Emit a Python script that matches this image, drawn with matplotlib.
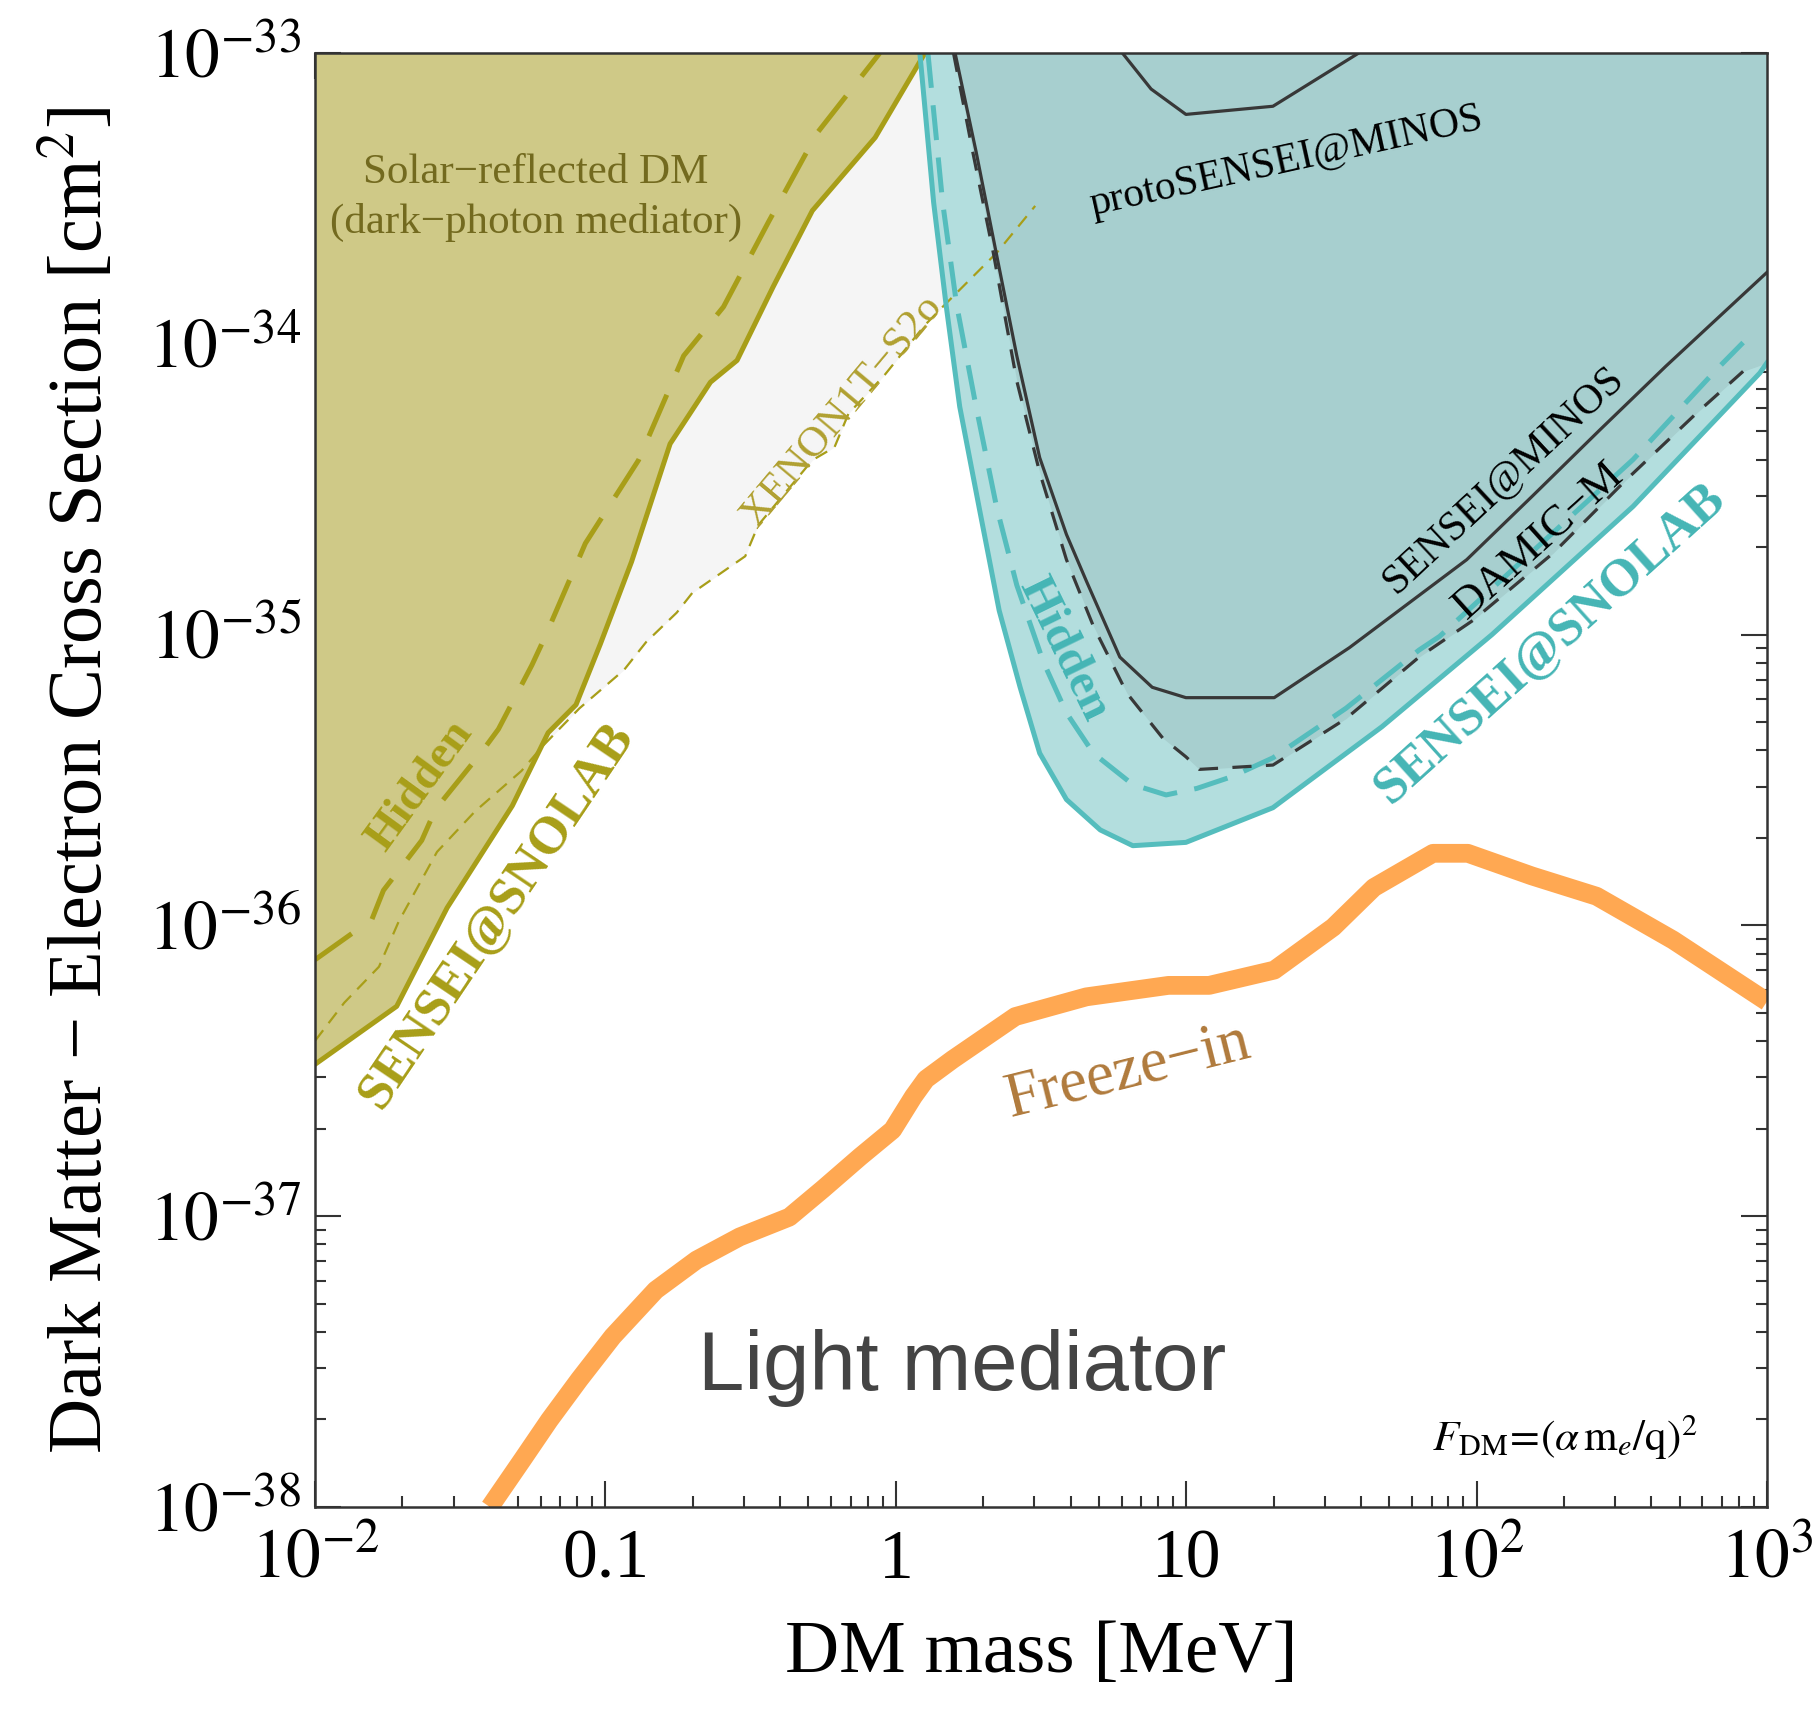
import matplotlib
matplotlib.use("Agg")
import matplotlib.pyplot as plt
import numpy as np
from matplotlib.ticker import LogLocator, NullFormatter

plt.rcParams["font.family"] = "serif"
plt.rcParams["font.serif"] = ["Liberation Serif", "DejaVu Serif"]
plt.rcParams["mathtext.fontset"] = "stix"

# curves: DM mass [MeV], cross section [cm^2]
solar_snolab_m = [0.010, 0.0191, 0.0285, 0.0478, 0.0635, 0.0792, 0.0960, 0.123,
                  0.167, 0.230, 0.284, 0.378, 0.516, 0.849, 1.26]
solar_snolab_s = [3.33e-37, 5.27e-37, 1.15e-36, 2.58e-36, 4.60e-36, 5.74e-36, 9.27e-36, 1.78e-35,
                  4.53e-35, 7.38e-35, 8.77e-35, 1.57e-34, 2.87e-34, 5.12e-34, 1.0e-33]

solar_hidden_m = [0.010, 0.0157, 0.0172, 0.0233, 0.0260, 0.0372, 0.0428, 0.0558,
                  0.0618, 0.0853, 0.130, 0.186, 0.255, 0.364, 0.536, 0.881]
solar_hidden_s = [7.62e-37, 1.05e-36, 1.32e-36, 1.96e-36, 2.51e-36, 3.91e-36, 4.73e-36, 7.85e-36,
                  9.77e-36, 2.06e-35, 3.98e-35, 9.10e-35, 1.34e-34, 2.62e-34, 5.31e-34, 1.0e-33]

xenon_m = [0.0100, 0.0126, 0.0166, 0.0194, 0.0263, 0.0356, 0.0514, 0.0607, 0.0814, 0.116,
           0.138, 0.176, 0.199, 0.303, 0.336, 0.516, 0.615, 0.687, 0.914, 1.26, 1.45, 2.23, 3.02]
xenon_s = [4.01e-37, 5.42e-37, 7.21e-37, 1.03e-36, 1.79e-36, 2.47e-36, 3.40e-36, 4.13e-36, 5.58e-36, 7.57e-36,
           9.42e-36, 1.19e-35, 1.39e-35, 1.86e-35, 2.38e-35, 3.98e-35, 4.41e-35, 5.75e-35, 7.80e-35, 1.16e-34,
           1.34e-34, 2.06e-34, 2.98e-34]

snolab_m = [1.21, 1.35, 1.49, 1.66, 1.94, 2.27, 2.68, 3.13, 3.87, 5.06, 6.55, 9.98,
            19.9, 47.2, 113, 346, 946, 1000]
snolab_s = [1.0e-33, 3.06e-34, 1.36e-34, 6.08e-35, 2.71e-35, 1.21e-35, 6.59e-36, 3.91e-36, 2.71e-36,
            2.13e-36, 1.88e-36, 1.93e-36, 2.54e-36, 4.82e-36, 1.00e-35, 2.76e-35, 7.94e-35, 8.6e-35]

snolab_hidden_m = [1.29, 1.45, 1.62, 1.89, 2.23, 2.61, 3.22, 3.87, 4.79, 6.55, 8.53, 10.9,
                   14.4, 19.9, 35.5, 63.4, 74.6, 346, 670, 828]
snolab_hidden_s = [1.0e-33, 3.06e-34, 1.36e-34, 6.08e-35, 2.71e-35, 1.48e-35, 8.07e-36, 5.38e-36,
                   3.91e-36, 3.05e-36, 2.81e-36, 2.96e-36, 3.25e-36, 3.77e-36, 5.58e-36, 8.85e-36,
                   9.86e-36, 4.00e-35, 8.15e-35, 1.01e-34]

damic_m = [1.58, 1.84, 2.17, 2.61, 3.13, 3.87, 4.79, 6.25, 8.30, 9.98, 11.1, 19.9,
           35.5, 63.4, 97.3, 184, 328, 573, 828]
damic_s = [1.0e-33, 4.58e-34, 2.04e-34, 7.45e-35, 3.61e-35, 1.81e-35, 1.07e-35, 6.29e-36, 4.41e-36,
           3.80e-36, 3.44e-36, 3.56e-36, 5.14e-36, 8.37e-36, 1.12e-35, 1.91e-35, 3.41e-35,
           5.78e-35, 8.04e-35]

minos_m = [1.60, 1.89, 2.22, 2.61, 3.13, 3.87, 4.53, 5.91, 7.64, 9.98, 20.1, 36.5, 92.5,
           156, 266, 449, 1000]
minos_s = [1.0e-33, 4.58e-34, 2.04e-34, 9.10e-35, 4.06e-35, 2.21e-35, 1.53e-35, 8.37e-36, 6.59e-36,
           6.07e-36, 6.07e-36, 9.02e-36, 1.81e-35, 3.00e-35, 5.06e-35, 8.38e-35, 1.76e-34]

proto_m = [6.03, 7.57, 9.98, 19.9, 39.3]
proto_s = [1.0e-33, 7.52e-34, 6.15e-34, 6.56e-34, 1.0e-33]

freezein_m = [0.040, 0.0519, 0.0641, 0.0814, 0.106, 0.149, 0.206, 0.290, 0.430, 0.561, 0.753,
              0.975, 1.15, 1.27, 1.57, 2.58, 4.53, 8.69, 12.0, 20.1, 32.1, 44.3, 70.8, 93.3,
              155, 259, 475, 1000]
freezein_s = [1.0e-38, 1.46e-38, 1.99e-38, 2.75e-38, 3.86e-38, 5.57e-38, 7.07e-38, 8.49e-38, 9.93e-38,
              1.24e-37, 1.60e-37, 1.98e-37, 2.58e-37, 2.96e-37, 3.46e-37, 4.86e-37, 5.68e-37, 6.22e-37,
              6.22e-37, 7.02e-37, 9.86e-37, 1.35e-36, 1.77e-36, 1.77e-36, 1.48e-36, 1.26e-36,
              8.91e-37, 5.47e-37]

xtick_vals = [1e-2, 1e-1, 1, 10, 1e2, 1e3]
xtick_labels = [r"$10^{-2}$", "0.1", "1", "10", r"$10^{2}$", r"$10^{3}$"]
ytick_vals = [1e-38, 1e-37, 1e-36, 1e-35, 1e-34, 1e-33]
ytick_labels = [r"$10^{-38}$", r"$10^{-37}$", r"$10^{-36}$", r"$10^{-35}$", r"$10^{-34}$", r"$10^{-33}$"]

olive_line = "#A89E18"
olive_fill = "#CFC987"
teal_line = "#55BDBD"
teal_text = "#45B5B5"
teal_light = "#B3DEDE"
teal_dark = "#A7CFCF"
dark = "#383838"
orange = "#FFA852"
top = 1e-33

fig = plt.figure(figsize=(18.18, 17.10), dpi=100)
ax = fig.add_axes([0.1733, 0.1187, 0.7986, 0.8503])
ax.set_xscale("log")
ax.set_yscale("log")

# filled regions
ax.fill_between(xenon_m, xenon_s, top, color="#F5F5F5", lw=0, zorder=1)
ax.fill_between(solar_snolab_m, solar_snolab_s, top, color=olive_fill, lw=0, zorder=2)
ax.fill_between(snolab_m, snolab_s, top, color=teal_light, lw=0, zorder=3)
# current-limit region (bounded by DAMIC-M, closed to the right edge on the SNOLAB curve)
ax.fill_between(np.append(damic_m, snolab_m[-1]), np.append(damic_s, snolab_s[-1]), top,
                color=teal_dark, lw=0, zorder=4)

# limit curves
ax.plot(xenon_m, xenon_s, color=olive_line, lw=1.6, dashes=(6, 4), zorder=5)
ax.plot(solar_snolab_m, solar_snolab_s, color=olive_line, lw=3.6, zorder=6)
ax.plot(solar_hidden_m, solar_hidden_s, color=olive_line, lw=3.6, dashes=(9, 5), zorder=6)
ax.plot(snolab_m, snolab_s, color=teal_line, lw=3.6, zorder=6)
ax.plot(snolab_hidden_m, snolab_hidden_s, color=teal_line, lw=3.6, dashes=(7, 3.5), zorder=6)
ax.plot(damic_m, damic_s, color=dark, lw=2.3, dashes=(6, 4.5), zorder=7)
ax.plot(minos_m, minos_s, color=dark, lw=2.3, zorder=7)
ax.plot(proto_m, proto_s, color=dark, lw=2.3, zorder=7)
ax.plot(freezein_m, freezein_s, color=orange, lw=13.5, solid_capstyle="butt", zorder=8)

# labels in the plot
ax.text(0.0575, 3.18e-34, "Solar\u2212reflected DM\n(dark\u2212photon mediator)", color="#736A1F",
        fontsize=31, ha="center", va="center", linespacing=1.35, zorder=9)
ax.text(0.656, 5.86e-35, "XENON1T\u2212S2o", color="#B0A030", fontsize=31, rotation=50,
        ha="center", va="center", zorder=9)
ax.text(0.0231, 3.02e-36, "Hidden", color=olive_line, fontsize=34, fontweight="bold",
        rotation=54, ha="center", va="center", zorder=9)
ax.text(0.0420, 1.08e-36, "SENSEI@SNOLAB", color=olive_line, fontsize=38, fontweight="bold",
        rotation=56, ha="center", va="center", zorder=9)
ax.text(22.2, 4.22e-34, "protoSENSEI@MINOS", color="black", fontsize=30, rotation=12.5,
        ha="center", va="center", zorder=9)
ax.text(124, 3.38e-35, "SENSEI@MINOS", color="black", fontsize=30, rotation=43,
        ha="center", va="center", zorder=9)
ax.text(163, 2.11e-35, "DAMIC\u2212M", color="black", fontsize=32, rotation=42,
        ha="center", va="center", zorder=9)
ax.text(179, 9.35e-36, "SENSEI@SNOLAB", color=teal_text, fontsize=38, fontweight="bold",
        rotation=42, ha="center", va="center", zorder=9)
ax.text(3.80, 8.93e-36, "Hidden", color=teal_text, fontsize=35, fontweight="bold",
        rotation=-64, ha="center", va="center", zorder=9)
ax.text(6.31, 3.13e-37, "Freeze\u2212in", color="#B07A3C", fontsize=45, rotation=14,
        ha="center", va="center", zorder=9)
ax.text(1.69, 3.01e-38, "Light mediator", color="#444444", fontsize=60,
        family="Liberation Sans", ha="center", va="center", zorder=9)
ax.text(202, 1.73e-38, r"$F_{\mathrm{DM}}\!=\!(\alpha\,\mathrm{m}_e/\mathrm{q})^2$", color="black",
        fontsize=31, ha="center", va="center", zorder=9)

ax.set_xlim(1e-2, 1e3)
ax.set_ylim(1e-38, 1e-33)
ax.set_xticks(xtick_vals)
ax.set_xticklabels(xtick_labels)
ax.set_yticks(ytick_vals)
ax.set_yticklabels(ytick_labels)
ax.xaxis.set_minor_locator(LogLocator(base=10, subs=np.arange(2, 10)))
ax.yaxis.set_minor_locator(LogLocator(base=10, subs=np.arange(2, 10)))
ax.xaxis.set_minor_formatter(NullFormatter())
ax.yaxis.set_minor_formatter(NullFormatter())

ax.tick_params(which="both", direction="in", top=True, right=True, colors="#333333",
               width=1.5, labelcolor="black")
ax.tick_params(which="major", length=19, labelsize=50)
ax.tick_params(which="minor", length=8)
ax.tick_params(axis="x", which="major", pad=16)
ax.tick_params(axis="y", which="major", pad=10)
for sp in ax.spines.values():
    sp.set_color("#333333")
    sp.set_linewidth(1.8)
    sp.set_zorder(10)

ax.set_xlabel("DM mass [MeV]", fontsize=54, labelpad=20)
ax.set_ylabel("Dark Matter \u2212 Electron Cross Section [cm$^2$]", fontsize=55, labelpad=22)

fig.savefig("out.png", dpi=100)
